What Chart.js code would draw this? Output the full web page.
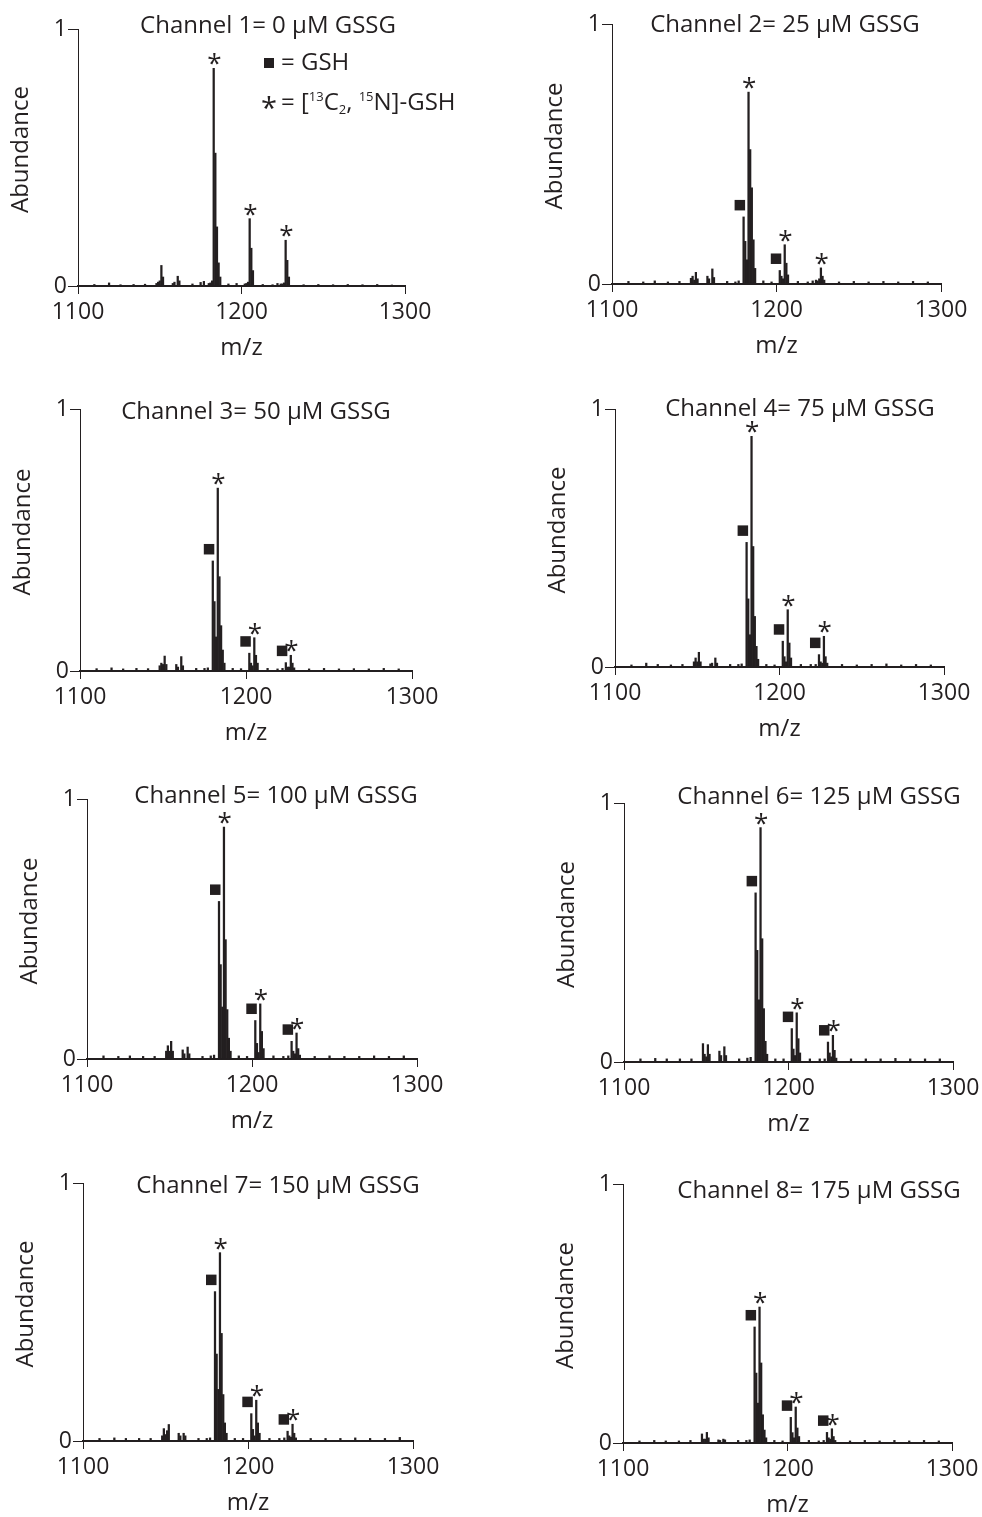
<!DOCTYPE html>
<html>
<head>
<meta charset="utf-8">
<title>GSH / GSSG channel spectra</title>
<script src="https://cdn.jsdelivr.net/npm/chart.js@4.4.1/dist/chart.umd.min.js"></script>
<style>
  html, body { margin: 0; padding: 0; background: #fff; }
  #figure { position: relative; width: 982px; height: 1517px; overflow: hidden; background: #fff; }
  #figure canvas { position: absolute; }
</style>
</head>
<body>
<div id="figure"></div>
<script>
// m/z of every peak picked from the spectra (shared by all eight channels)
const mzValues = [
  1110, 1119, 1126, 1134, 1141,
  1148, 1149, 1150, 1151, 1152,
  1158, 1159, 1161, 1162, 1170,
  1175, 1177, 1180, 1181, 1182,
  1183, 1184, 1185, 1186, 1187,
  1192, 1197, 1202, 1203, 1204,
  1205, 1206, 1207, 1213, 1219,
  1222, 1224, 1225, 1226, 1227,
  1228, 1229, 1238, 1247, 1256,
  1265, 1274, 1283, 1292
];

// relative abundance at each m/z above, one list per channel
const channel1 = [
  0.006, 0.012, 0.005, 0.006, 0.007,
  0.010, 0.015, 0.020, 0.080, 0.035,
  0.010, 0.015, 0.038, 0.020, 0.008,
  0.014, 0.018, 0.010, 0.012, 0.020,
  0.847, 0.517, 0.230, 0.090, 0.035,
  0.008, 0.010, 0.008, 0.010, 0.015,
  0.262, 0.147, 0.060, 0.006, 0.005,
  0.010, 0.008, 0.008, 0.012, 0.178,
  0.100, 0.035, 0.005, 0.006, 0.005,
  0.006, 0.005, 0.006, 0.004
];
const channel2 = [
  0.010, 0.008, 0.012, 0.008, 0.010,
  0.022, 0.030, 0.015, 0.045, 0.020,
  0.030, 0.020, 0.058, 0.025, 0.010,
  0.008, 0.012, 0.258, 0.164, 0.093,
  0.738, 0.517, 0.370, 0.170, 0.060,
  0.012, 0.008, 0.052, 0.030, 0.020,
  0.151, 0.080, 0.035, 0.010, 0.008,
  0.012, 0.015, 0.012, 0.020, 0.062,
  0.030, 0.015, 0.008, 0.010, 0.008,
  0.010, 0.008, 0.010, 0.008
];
const channel3 = [
  0.009, 0.012, 0.008, 0.010, 0.009,
  0.020, 0.030, 0.025, 0.057, 0.025,
  0.025, 0.015, 0.055, 0.020, 0.010,
  0.010, 0.012, 0.420, 0.265, 0.130,
  0.698, 0.360, 0.173, 0.080, 0.030,
  0.010, 0.009, 0.068, 0.030, 0.020,
  0.127, 0.060, 0.030, 0.010, 0.008,
  0.010, 0.032, 0.015, 0.015, 0.060,
  0.030, 0.012, 0.008, 0.010, 0.008,
  0.009, 0.008, 0.010, 0.008
];
const channel4 = [
  0.008, 0.015, 0.010, 0.008, 0.010,
  0.020, 0.035, 0.020, 0.057, 0.020,
  0.012, 0.015, 0.035, 0.015, 0.010,
  0.010, 0.012, 0.483, 0.264, 0.125,
  0.894, 0.467, 0.196, 0.080, 0.030,
  0.010, 0.008, 0.100, 0.040, 0.020,
  0.222, 0.093, 0.035, 0.010, 0.010,
  0.010, 0.048, 0.020, 0.015, 0.119,
  0.040, 0.015, 0.010, 0.008, 0.010,
  0.012, 0.008, 0.010, 0.008
];
const channel5 = [
  0.012, 0.010, 0.012, 0.010, 0.010,
  0.030, 0.051, 0.030, 0.068, 0.030,
  0.035, 0.020, 0.046, 0.020, 0.010,
  0.012, 0.015, 0.606, 0.363, 0.200,
  0.892, 0.459, 0.190, 0.080, 0.030,
  0.012, 0.010, 0.148, 0.060, 0.025,
  0.212, 0.106, 0.040, 0.012, 0.010,
  0.012, 0.068, 0.030, 0.020, 0.100,
  0.040, 0.015, 0.010, 0.012, 0.010,
  0.010, 0.012, 0.010, 0.012
];
const channel6 = [
  0.012, 0.014, 0.012, 0.012, 0.012,
  0.071, 0.030, 0.020, 0.067, 0.030,
  0.042, 0.025, 0.059, 0.025, 0.012,
  0.015, 0.018, 0.653, 0.431, 0.240,
  0.905, 0.476, 0.206, 0.080, 0.030,
  0.012, 0.012, 0.129, 0.050, 0.025,
  0.190, 0.090, 0.035, 0.012, 0.012,
  0.012, 0.077, 0.035, 0.020, 0.103,
  0.045, 0.015, 0.012, 0.012, 0.012,
  0.014, 0.012, 0.012, 0.012
];
const channel7 = [
  0.010, 0.012, 0.010, 0.010, 0.010,
  0.020, 0.048, 0.025, 0.040, 0.064,
  0.030, 0.020, 0.030, 0.020, 0.010,
  0.010, 0.012, 0.579, 0.337, 0.200,
  0.730, 0.417, 0.180, 0.070, 0.030,
  0.010, 0.010, 0.106, 0.045, 0.020,
  0.158, 0.070, 0.030, 0.010, 0.010,
  0.012, 0.038, 0.020, 0.015, 0.065,
  0.030, 0.012, 0.010, 0.010, 0.010,
  0.012, 0.010, 0.010, 0.014
];
const channel8 = [
  0.008, 0.010, 0.008, 0.008, 0.010,
  0.035, 0.015, 0.015, 0.041, 0.020,
  0.012, 0.010, 0.015, 0.012, 0.010,
  0.010, 0.012, 0.448, 0.270, 0.154,
  0.525, 0.309, 0.109, 0.050, 0.020,
  0.010, 0.008, 0.099, 0.040, 0.020,
  0.139, 0.058, 0.025, 0.010, 0.008,
  0.010, 0.041, 0.020, 0.015, 0.055,
  0.025, 0.010, 0.008, 0.010, 0.008,
  0.010, 0.008, 0.010, 0.008
];
const channels = [channel1, channel2, channel3, channel4, channel5, channel6, channel7, channel8];

// GSSG spiked into each channel (µM)
const gssgConc = [0, 25, 50, 75, 100, 125, 150, 175];

// tagged peaks: squares = GSH, asterisks = [13C2, 15N]-GSH
const gshPeaks = [
  [],
  [1180, 1202],
  [1180, 1202, 1224],
  [1180, 1202, 1224],
  [1180, 1202, 1224],
  [1180, 1202, 1224],
  [1180, 1202, 1224],
  [1180, 1202, 1224]
];
const labelledPeaks = [1183, 1205, 1227];

const xTicks = [1100, 1200, 1300];
const yTicks = [0, 1];

// page layout: chart area of each panel (left, top, width, height)
const panelBoxes = [
  [78, 29, 327, 257], [612, 24, 329, 260],
  [80, 409, 332, 262], [615, 409, 329, 258],
  [87, 799, 330, 260], [624, 803, 329, 259],
  [83, 1183, 330, 258], [623, 1184, 329, 259]
];
// centre of each panel title, measured from the chart area's top-left corner
const titleSpots = [
  [190, -3], [173, 1], [176, 3], [185, 0],
  [189, -3], [195, -6], [195, 3], [196, 7]
];

const ink = '#231f20';
const FONT = "'Open Sans', sans-serif";
const PAD = { left: 76, top: 40, right: 60, bottom: 80 };

Chart.defaults.font.family = FONT;
Chart.defaults.color = ink;

// draw text so that its inked box is centred on (cx, cy)
function inkText(ctx, text, cx, cy) {
  ctx.textAlign = 'left';
  ctx.textBaseline = 'alphabetic';
  const m = ctx.measureText(text);
  const x = cx - (m.actualBoundingBoxRight - m.actualBoundingBoxLeft) / 2;
  const y = cy + (m.actualBoundingBoxAscent - m.actualBoundingBoxDescent) / 2;
  ctx.fillText(text, x, y);
}

// legend of the symbols, drawn inside the first panel
function drawKey(ctx, left, top) {
  ctx.fillStyle = ink;
  ctx.fillRect(left + 186, top + 29, 10, 10);
  ctx.font = `24px ${FONT}`;
  ctx.textAlign = 'left';
  ctx.textBaseline = 'middle';
  ctx.fillText('= GSH', left + 203, top + 34);

  ctx.font = `29px ${FONT}`;
  inkText(ctx, '*', left + 191, top + 74);
  const mid = top + 74;
  const parts = [
    ['= [', 24, 0], ['13', 13, -6], ['C', 24, 0], ['2', 13, 7],
    [', ', 24, 0], ['15', 13, -6], ['N]-GSH', 24, 0]
  ];
  let x = left + 203;
  ctx.textBaseline = 'middle';
  parts.forEach(([txt, size, shift]) => {
    ctx.font = `${size}px ${FONT}`;
    ctx.fillText(txt, x, mid + shift);
    x += ctx.measureText(txt).width;
  });
}

const peakMarks = {
  id: 'peakMarks',
  afterDatasetsDraw(chart, args, opts) {
    const { ctx, scales: { x, y } } = chart;
    const values = chart.data.datasets[0].data;
    const heightAt = mz => values[mzValues.indexOf(mz)].y;
    ctx.save();
    ctx.fillStyle = ink;
    opts.gsh.forEach(mz => {
      const px = x.getPixelForValue(mz) - 4;
      const py = y.getPixelForValue(heightAt(mz)) - 12;
      ctx.fillRect(px - 5, py - 5, 10.5, 10.5);
    });
    ctx.font = `26px ${FONT}`;
    opts.labelled.forEach(mz => {
      inkText(ctx, '*', x.getPixelForValue(mz) + 1, y.getPixelForValue(heightAt(mz)) - 9);
    });
    ctx.restore();
  }
};

// panel title, y-axis title and (first panel only) the symbol key
const panelText = {
  id: 'panelText',
  afterDraw(chart, args, opts) {
    const { ctx, chartArea } = chart;
    ctx.save();
    ctx.fillStyle = ink;
    ctx.font = `24px ${FONT}`;
    ctx.textAlign = 'center';
    ctx.textBaseline = 'middle';
    ctx.fillText(opts.title, chartArea.left + opts.spot[0], chartArea.top + opts.spot[1]);

    ctx.save();
    ctx.translate(chartArea.left - 57, (chartArea.top + chartArea.bottom) / 2 - 8);
    ctx.rotate(-Math.PI / 2);
    ctx.fillText('Abundance', 0, 0);
    ctx.restore();

    if (opts.showKey) drawKey(ctx, chartArea.left, chartArea.top);
    ctx.restore();
  }
};

function buildPanel(i) {
  const [left, top, w, h] = panelBoxes[i];
  const canvas = document.createElement('canvas');
  canvas.width = w + PAD.left + PAD.right;
  canvas.height = h + PAD.top + PAD.bottom;
  canvas.style.left = (left - PAD.left) + 'px';
  canvas.style.top = (top - PAD.top) + 'px';
  document.getElementById('figure').appendChild(canvas);

  const points = mzValues.map((mz, k) => ({ x: mz, y: channels[i][k] }));

  new Chart(canvas, {
    type: 'bar',
    data: {
      datasets: [{
        data: points,
        backgroundColor: ink,
        borderWidth: 0,
        barThickness: 1.6,
        grouped: false
      }]
    },
    options: {
      responsive: false,
      animation: false,
      events: [],
      layout: { padding: { left: 0, top: PAD.top, right: PAD.right, bottom: 0 } },
      plugins: {
        legend: { display: false },
        tooltip: { enabled: false },
        peakMarks: { gsh: gshPeaks[i], labelled: labelledPeaks },
        panelText: {
          title: `Channel ${i + 1}= ${gssgConc[i]} µM GSSG`,
          spot: titleSpots[i],
          showKey: i === 0
        }
      },
      scales: {
        x: {
          type: 'linear',
          min: xTicks[0],
          max: xTicks[xTicks.length - 1],
          offset: false,
          afterBuildTicks: s => { s.ticks = xTicks.map(value => ({ value })); },
          afterFit: s => { s.height = PAD.bottom; },
          ticks: { font: { size: 23 }, color: ink, padding: 5, maxRotation: 0, autoSkip: false,
                   callback: v => String(v) },
          grid: { offset: false, drawOnChartArea: false, drawTicks: true, tickLength: 8, color: ink, lineWidth: 1 },
          border: { display: true, color: ink, width: 2 },
          title: { display: true, text: 'm/z', font: { size: 24 }, color: ink, padding: { top: 0, bottom: 3 } }
        },
        y: {
          min: yTicks[0],
          max: yTicks[yTicks.length - 1],
          afterBuildTicks: s => { s.ticks = yTicks.map(value => ({ value })); },
          afterFit: s => { s.width = PAD.left; },
          ticks: { font: { size: 23 }, color: ink, padding: 1, callback: v => String(v) },
          grid: { drawOnChartArea: false, drawTicks: true, tickLength: 10, color: ink, lineWidth: 1 },
          border: { display: true, color: ink, width: 1 },
          title: { display: false }
        }
      }
    },
    plugins: [peakMarks, panelText]
  });
}

for (let i = 0; i < 8; i++) buildPanel(i);
</script>
</body>
</html>
